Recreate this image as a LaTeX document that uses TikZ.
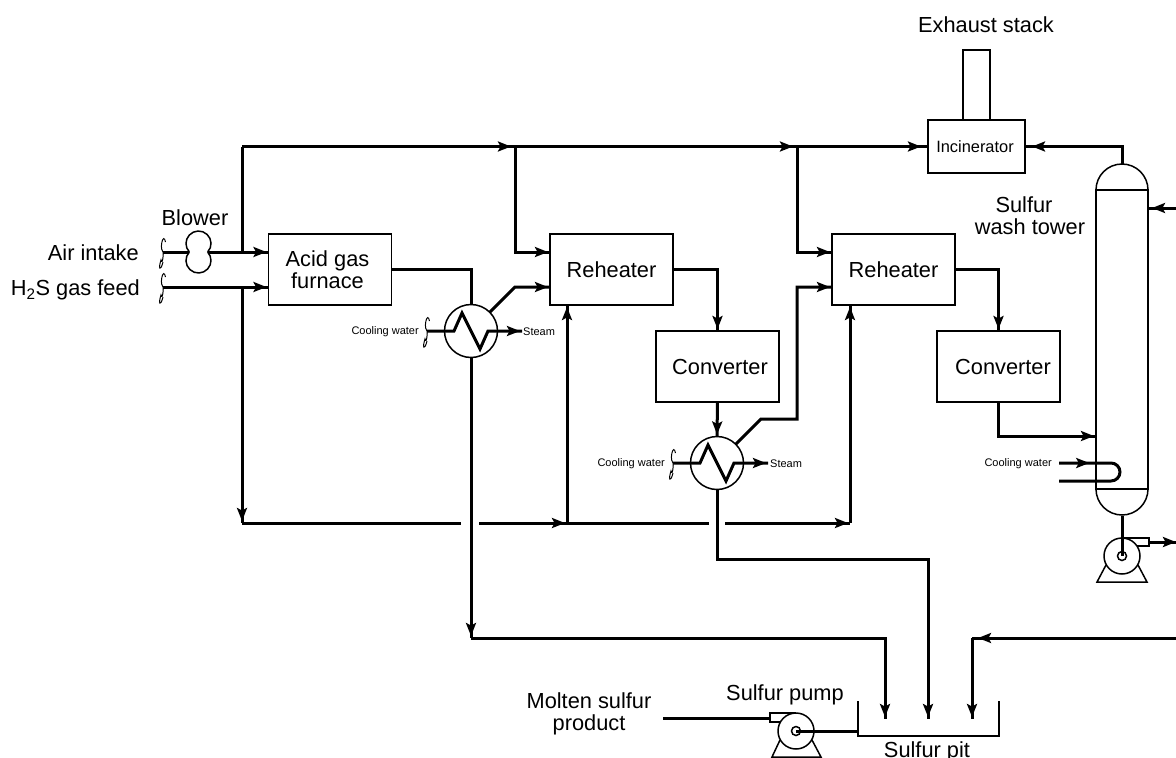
\documentclass[tikz,border=0pt]{standalone}
\usepackage{fontspec}
\setmainfont{Liberation Sans}
\usetikzlibrary{arrows.meta, decorations.markings}

\newcommand{\pipebreak}[1]{\draw[line width=1pt] (#1) +(2.5,-10) .. controls +(-2,-10) and +(-3,-4) .. +(-0.5,-1) .. controls +(2,2) and +(1,6) .. +(-2,8) .. controls +(-3,9) and +(-2.5,10) .. +(0,10);}

\begin{document}
\begin{tikzpicture}[
  x=1pt, y=-1pt,
  box/.style    = {draw, line width=1.5pt, minimum width=123pt, minimum height=71pt,
                   inner sep=0pt, outer sep=0pt, align=center, font=\fontsize{21.8}{22}\selectfont},
  vessel/.style = {line width=1.5pt},
  shell/.style  = {draw, circle, line width=1.5pt, minimum size=53pt, inner sep=0pt, outer sep=0pt},
  casing/.style = {draw, circle, line width=1.5pt, minimum size=36pt, inner sep=0pt, outer sep=0pt},
  eye/.style    = {draw, circle, line width=1.5pt, minimum size=9pt, inner sep=0pt, outer sep=0pt},
  lbl/.style    = {inner sep=0pt, align=center, font=\fontsize{21.8}{22}\selectfont},
  slbl/.style   = {inner sep=0pt, font=\fontsize{11}{12}\selectfont},
  pipe/.style   = {line width=3pt},
  flow/.style   = {pipe, postaction={decorate}, decoration={markings,
                   mark=at position -#1pt with {\arrow{Stealth[length=13pt,width=10pt,inset=2.5pt]}}}},
  flow/.default = 2
]
  \useasboundingbox (0,0) rectangle (1176,758);

  % process units
  \node[box] (Furn) at (330,269.5) {\hspace*{-5pt}Acid gas\\\hspace*{-5pt}furnace};
  \node[box] (ReA)  at (611.5,269.5) {Reheater};
  \node[box] (ReB)  at (893.5,269.5) {Reheater};
  \node[box] (ConvA) at (717.5,366.5) {\hspace*{5pt}Converter};
  \node[box] (ConvB) at (998.5,366.5) {\hspace*{9pt}Converter};
  \node[box, minimum width=97pt, minimum height=53pt, font=\fontsize{16.4}{17}\selectfont]
       (Incin) at (976.5,146.5) {Incinerator\hspace*{3pt}};
  \node[box, minimum width=27pt, minimum height=70pt, anchor=south] (Stack) at (Incin.north) {};
  \node[shell] (HxA) at (471,331) {};
  \node[shell] (HxB) at (717,463) {};
  \node[draw, line width=1.5pt, minimum width=52pt, minimum height=299pt, inner sep=0pt, outer sep=0pt]
       (Tower) at (1122,339.5) {};
  \draw[vessel] (Tower.north west) arc[start angle=180, end angle=0, radius=26pt];
  \draw[vessel] (Tower.south west) arc[start angle=180, end angle=360, radius=26pt];
  \coordinate (TowerTop) at (1122,163.5);
  \coordinate (TowerBot) at (1122,515.5);

  % blower
  \node[minimum width=18.4pt, inner sep=0pt, outer sep=0pt] (Blow) at (198.5,252) {};
  \draw[vessel] (Blow.east) arc[start angle=-42.7, end angle=222.7, radius=12.5pt];
  \draw[vessel] (Blow.west) arc[start angle=137.3, end angle=402.7, radius=12.5pt];

  % pumps
  \node[casing] (PumpT) at (1122,556) {};
  \node[eye]    (EyeT)  at (1122,556) {};
  \draw[vessel] (PumpT.north) -- (1149,538) -- (1149,546) -- (1137,546);
  \draw[vessel] (1106,565) -- (1097,582) -- (1147,582) -- (1138,565);
  \node[casing] (PumpS) at (796,731) {};
  \node[eye]    (EyeS)  at (796,731) {};
  \draw[vessel] (PumpS.north) -- (770,713) -- (770,722) -- (780,722);
  \draw[vessel] (780,740) -- (772,757) -- (821,757) -- (812,740);

  % sulfur pit
  \draw[vessel] (858,701) -- (858,736) -- (999,736) -- (999,701);
  \coordinate (PitA) at (885,719);
  \coordinate (PitB) at (928,719);
  \coordinate (PitC) at (972,719);

  % labels
  \node[lbl, anchor=base east] (Air) at (139,260.7) {Air intake};
  \node[lbl, anchor=base east] (Gas) at (140,295.7) {H\textsubscript{2}S gas feed};
  \node[lbl, anchor=base] (BlowL) at (195,225.7) {Blower};
  \node[lbl, anchor=base] (StackL) at (986,32) {Exhaust stack};
  \node[lbl] (TowerL) at (1030,216) {Sulfur\hspace*{12pt}\\wash tower};
  \node[lbl] (ProdL) at (589,714) {Molten sulfur\\product};
  \node[lbl, anchor=base] (PumpL) at (785,700) {Sulfur pump};
  \node[lbl, anchor=base] (PitL) at (927,757) {Sulfur pit};
  \node[slbl, anchor=east] (cwAL) at (419,332) {Cooling water};
  \node[slbl, anchor=east] (cwBL) at (665,464) {Cooling water};
  \node[slbl, anchor=east] (cwTL) at (1052,464) {Cooling water};
  \node[slbl, anchor=west] (stmA) at (523,332) {Steam};
  \node[slbl, anchor=west] (stmB) at (770,464) {Steam};

  % junctions and free ends
  \coordinate (airIn) at (163,252);
  \coordinate (gasIn) at (163,287);
  \coordinate (cwA) at (427,331);
  \coordinate (cwB) at (673,463);
  \coordinate (airJ) at (242,252);
  \coordinate (gasJ) at (242,287);
  \coordinate (topL) at (242,146.5);
  \coordinate (topA) at (515,146.5);
  \coordinate (topB) at (797,146.5);
  \coordinate (botL) at (242,523);
  \coordinate (gapAl) at (461,523);
  \coordinate (gapAr) at (479,523);
  \coordinate (botA) at (567,523);
  \coordinate (gapBl) at (709,523);
  \coordinate (gapBr) at (725,523);
  \coordinate (botB) at (850,523);
  \coordinate (sulA) at (471,638);
  \coordinate (retR) at (1176,638);
  \coordinate (prodEnd) at (663,718);
  \coordinate (washIn) at (1176,208);
  \coordinate (pumpOut) at (1179,542);

  \pipebreak{airIn}
  \pipebreak{gasIn}
  \pipebreak{cwA}
  \pipebreak{cwB}

  % feed lines
  \draw[pipe] (airIn) -- (Blow.west);
  \draw[flow] (Blow.east) -- ([yshift=17.5pt]Furn.west);
  \draw[flow] (gasIn) -- ([yshift=-17.5pt]Furn.west);
  \draw[pipe] (topL) -- (airJ);
  \draw[flow] (gasJ) -- (botL);

  % top header
  \draw[flow=4] (topL) -- (topA);
  \draw[flow=4] (topA) -- (topB);
  \draw[flow=7] (topB) -- (Incin.west);
  \draw[flow] (topA) |- ([yshift=17.5pt]ReA.west);
  \draw[flow] (topB) |- ([yshift=17.5pt]ReB.west);

  % bottom header
  \draw[pipe] (botL) -- (gapAl);
  \draw[flow=2] (gapAr) -- (botA);
  \draw[pipe] (botA) -- (gapBl);
  \draw[flow=2] (gapBr) -- (botB);
  \draw[flow] (botA) -- (botA |- ReA.south);
  \draw[flow] (botB) -- (botB |- ReB.south);

  % process gas
  \draw[pipe] (Furn.east) -| (HxA.north);
  \draw[flow] (HxA.45) -- (515,287) -- ([yshift=-17.5pt]ReA.west);
  \draw[flow] (ReA.east) -| (ConvA.north);
  \draw[flow] (ConvA.south) -- (HxB.north);
  \draw[flow] (HxB.45) -- (761,419) -- (797,419) -- (797,287) -- ([yshift=-17.5pt]ReB.west);
  \draw[flow] (ReB.east) -| (ConvB.north);
  \draw[flow] (ConvB.south) |- (1096,436);
  \draw[flow=7] (TowerTop) |- (Incin.east);

  % steam coils
  \draw[flow] (cwA) -- ++(27,0) -- ++(8,-18) -- ++(18,36) -- ++(8,-18) -- (522,331);
  \draw[flow] (cwB) -- ++(27,0) -- ++(8,-18) -- ++(18,36) -- ++(8,-18) -- (768,463);

  % tower cooling coil
  \draw[flow=102] (1059,463) -- (1111,463) arc[start angle=90, end angle=-90, radius=9pt] -- (1059,481);

  % sulfur rundown
  \draw[flow] (HxA.south) -- (sulA);
  \draw[flow] (sulA) -| (PitA);
  \draw[flow] (HxB.south) |- (928,559) -- (PitB);
  \draw[flow=6] (retR) -- (972,638);
  \draw[flow] (972,638) -- (PitC);

  % tower connections
  \draw[flow=4] (washIn) -- (Tower.east |- washIn);
  \draw[pipe] (TowerBot) -- (EyeT.center);
  \draw[flow=3] (1149,542) -- (pumpOut);
  \draw[pipe] (EyeS.center) -- (858,731);
  \draw[pipe] (prodEnd) -- (770,718);
\end{tikzpicture}
\end{document}
